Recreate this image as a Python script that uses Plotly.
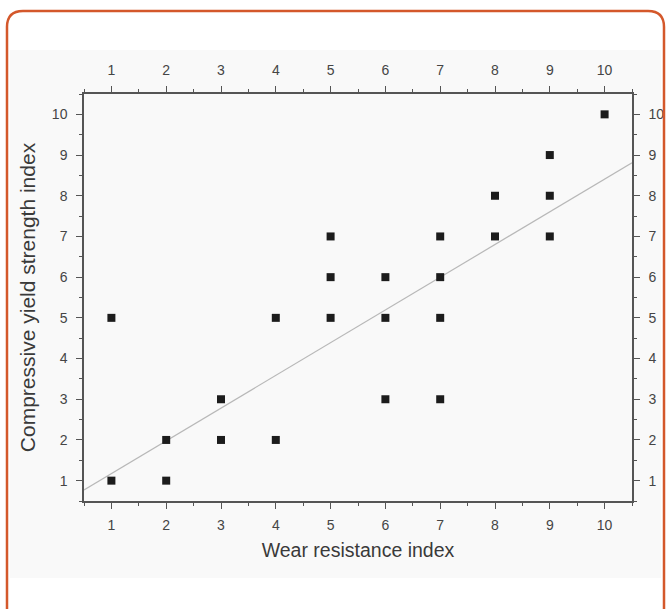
import plotly.graph_objects as go

# ---- data ----
wear_index = [1, 1, 2, 2, 3, 3, 4, 4, 5, 5, 5, 6, 6, 6, 7, 7, 7, 7, 8, 8, 9, 9, 9, 10]
yield_index = [1, 5, 1, 2, 2, 3, 2, 5, 5, 6, 7, 3, 5, 6, 3, 5, 6, 7, 7, 8, 7, 8, 9, 10]
fit_slope = 0.804
fit_intercept = 0.37
axis_range = [0.5, 10.5]
tick_values = [1, 2, 3, 4, 5, 6, 7, 8, 9, 10]
minor_values = [0.5, 1.5, 2.5, 3.5, 4.5, 5.5, 6.5, 7.5, 8.5, 9.5, 10.5]
x_title = "Wear resistance index"
y_title = "Compressive yield strength index"

fit_x = [axis_range[0], axis_range[1]]
fit_y = [fit_intercept + fit_slope * v for v in fit_x]

W, H = 666, 609
L, R, T, B = 84, 34, 94, 108
PW, PH = W - L - R, H - T - B


def px(X):
    return (X - L) / PW


def py(Y):
    return (H - B - Y) / PH


fig = go.Figure()
fig.add_trace(go.Scatter(x=fit_x, y=fit_y, mode="lines",
                         line=dict(color="#b8b8b8", width=1.2),
                         hoverinfo="skip", showlegend=False))
fig.add_trace(go.Scatter(x=wear_index, y=yield_index, mode="markers",
                         marker=dict(symbol="square", size=8, color="#1c1c1c"),
                         showlegend=False))
# invisible trace to carry the mirrored top/right axes
fig.add_trace(go.Scatter(x=[None], y=[None], xaxis="x2", yaxis="y2",
                         showlegend=False, hoverinfo="skip"))

tickfont = dict(family="Liberation Sans, Arial, sans-serif", size=14, color="#454545")
common = dict(range=axis_range, tickmode="array", tickvals=tick_values,
              ticks="outside", ticklen=6, tickwidth=1.3, tickcolor="#555555",
              showline=True, linecolor="#555555", linewidth=1.5,
              showgrid=False, zeroline=False, tickfont=tickfont,
              minor=dict(ticks="outside", ticklen=3, tickwidth=1.2, tickcolor="#555555",
                         tickmode="array", tickvals=minor_values),
              fixedrange=True)

titlefont = dict(family="Liberation Sans, Arial, sans-serif", size=19.5, color="#3a3a3a")

fig.update_layout(
    width=W, height=H,
    margin=dict(l=L, r=R, t=T, b=B, autoexpand=False),
    paper_bgcolor="white",
    plot_bgcolor="#ffffff",
    showlegend=False,
    xaxis=dict(**common, side="bottom", anchor="y", ticklabelstandoff=4,
               title=dict(text=x_title, font=titlefont, standoff=12)),
    yaxis=dict(**common, side="left", anchor="x", ticklabelstandoff=6,
               title=dict(text=y_title, font=dict(titlefont, size=21), standoff=11)),
    xaxis2=dict(**common, side="top", overlaying="x", anchor="y", ticklabelstandoff=6),
    yaxis2=dict(**common, side="right", overlaying="y", anchor="x", ticklabelstandoff=6),
)

# light grey backdrop inside the frame
fig.add_shape(type="rect", xref="paper", yref="paper",
              x0=px(10), x1=px(661), y0=py(578), y1=py(50),
              fillcolor="#f9f9f9", line=dict(width=0), layer="below")

# rounded orange frame (open at the bottom, cut by the image edge)
x0, x1, y0, y1, r = 7, 664, 11, 640, 16
path = (f"M {px(x0)},{py(y1)} L {px(x0)},{py(y0 + r)} "
        f"Q {px(x0)},{py(y0)} {px(x0 + r)},{py(y0)} "
        f"L {px(x1 - r)},{py(y0)} Q {px(x1)},{py(y0)} {px(x1)},{py(y0 + r)} "
        f"L {px(x1)},{py(y1)}")
fig.add_shape(type="path", xref="paper", yref="paper", path=path,
              line=dict(color="#d4582b", width=2.5), layer="above")

fig.write_html("out.html", config={"displayModeBar": False},
               post_script="document.body.style.margin='0';document.body.style.overflow='hidden';")
